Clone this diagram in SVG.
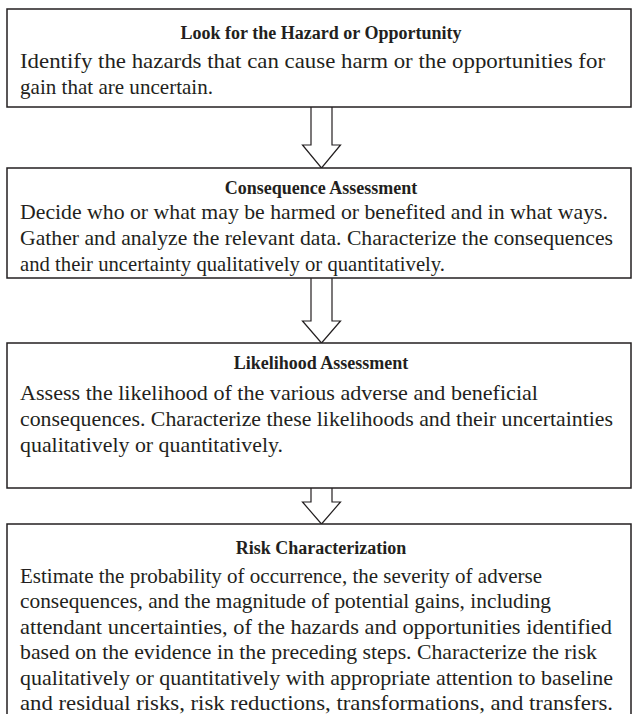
<svg xmlns="http://www.w3.org/2000/svg" width="633" height="714" viewBox="0 0 633 714">
  <style>
    .box { fill: #ffffff; stroke: #231f20; stroke-width: 1.5; }
    .arrow { fill: #ffffff; stroke: #231f20; stroke-width: 1.2; stroke-linejoin: miter; }
    .title { font-family: "Liberation Serif", "Times New Roman", serif; font-weight: bold; font-size: 18px; fill: #231f20; text-anchor: middle; }
    .body { font-family: "Liberation Serif", "Times New Roman", serif; font-size: 21px; fill: #231f20; }
  </style>
  <rect width="633" height="714" fill="#ffffff"/>

  <!-- block arrows between the steps -->
  <g id="connectors">
    <path class="arrow" d="M311,107 V145 H302.5 L321.5,168 L340.5,145 H332 V107"/>
    <path class="arrow" d="M311,278 V321 H302.5 L321.5,343 L340.5,321 H332 V278"/>
    <path class="arrow" d="M311,488 V502 H302.5 L321.5,524 L340.5,502 H332 V488"/>
  </g>

  <g id="hazard">
    <rect class="box" x="7" y="9" width="624" height="98"/>
    <text class="title" x="321" y="39">Look for the Hazard or Opportunity</text>
    <text class="body" x="20" y="68" textLength="585" lengthAdjust="spacingAndGlyphs">Identify the hazards that can cause harm or the opportunities for</text>
    <text class="body" x="20" y="94" textLength="193" lengthAdjust="spacingAndGlyphs">gain that are uncertain.</text>
  </g>

  <g id="consequence">
    <rect class="box" x="7" y="168" width="624" height="110"/>
    <text class="title" x="321" y="194">Consequence Assessment</text>
    <text class="body" x="20" y="219" textLength="588" lengthAdjust="spacingAndGlyphs">Decide who or what may be harmed or benefited and in what ways.</text>
    <text class="body" x="20" y="245" textLength="593" lengthAdjust="spacingAndGlyphs">Gather and analyze the relevant data. Characterize the consequences</text>
    <text class="body" x="20" y="271" textLength="425" lengthAdjust="spacingAndGlyphs">and their uncertainty qualitatively or quantitatively.</text>
  </g>

  <g id="likelihood">
    <rect class="box" x="7" y="343" width="624" height="145"/>
    <text class="title" x="321" y="369">Likelihood Assessment</text>
    <text class="body" x="20" y="400" textLength="518" lengthAdjust="spacingAndGlyphs">Assess the likelihood of the various adverse and beneficial</text>
    <text class="body" x="20" y="426" textLength="593" lengthAdjust="spacingAndGlyphs">consequences. Characterize these likelihoods and their uncertainties</text>
    <text class="body" x="20" y="452" textLength="263" lengthAdjust="spacingAndGlyphs">qualitatively or quantitatively.</text>
  </g>

  <g id="risk">
    <path class="box" d="M7,716 V524 H631 V716"/>
    <text class="title" x="321" y="554">Risk Characterization</text>
    <text class="body" x="20" y="582.5" textLength="522" lengthAdjust="spacingAndGlyphs">Estimate the probability of occurrence, the severity of adverse</text>
    <text class="body" x="20" y="608" textLength="531" lengthAdjust="spacingAndGlyphs">consequences, and the magnitude of potential gains, including</text>
    <text class="body" x="20" y="633.5" textLength="592" lengthAdjust="spacingAndGlyphs">attendant uncertainties, of the hazards and opportunities identified</text>
    <text class="body" x="20" y="659" textLength="577" lengthAdjust="spacingAndGlyphs">based on the evidence in the preceding steps. Characterize the risk</text>
    <text class="body" x="20" y="684.5" textLength="593" lengthAdjust="spacingAndGlyphs">qualitatively or quantitatively with appropriate attention to baseline</text>
    <text class="body" x="20" y="710" textLength="593" lengthAdjust="spacingAndGlyphs">and residual risks, risk reductions, transformations, and transfers.</text>
  </g>
</svg>
